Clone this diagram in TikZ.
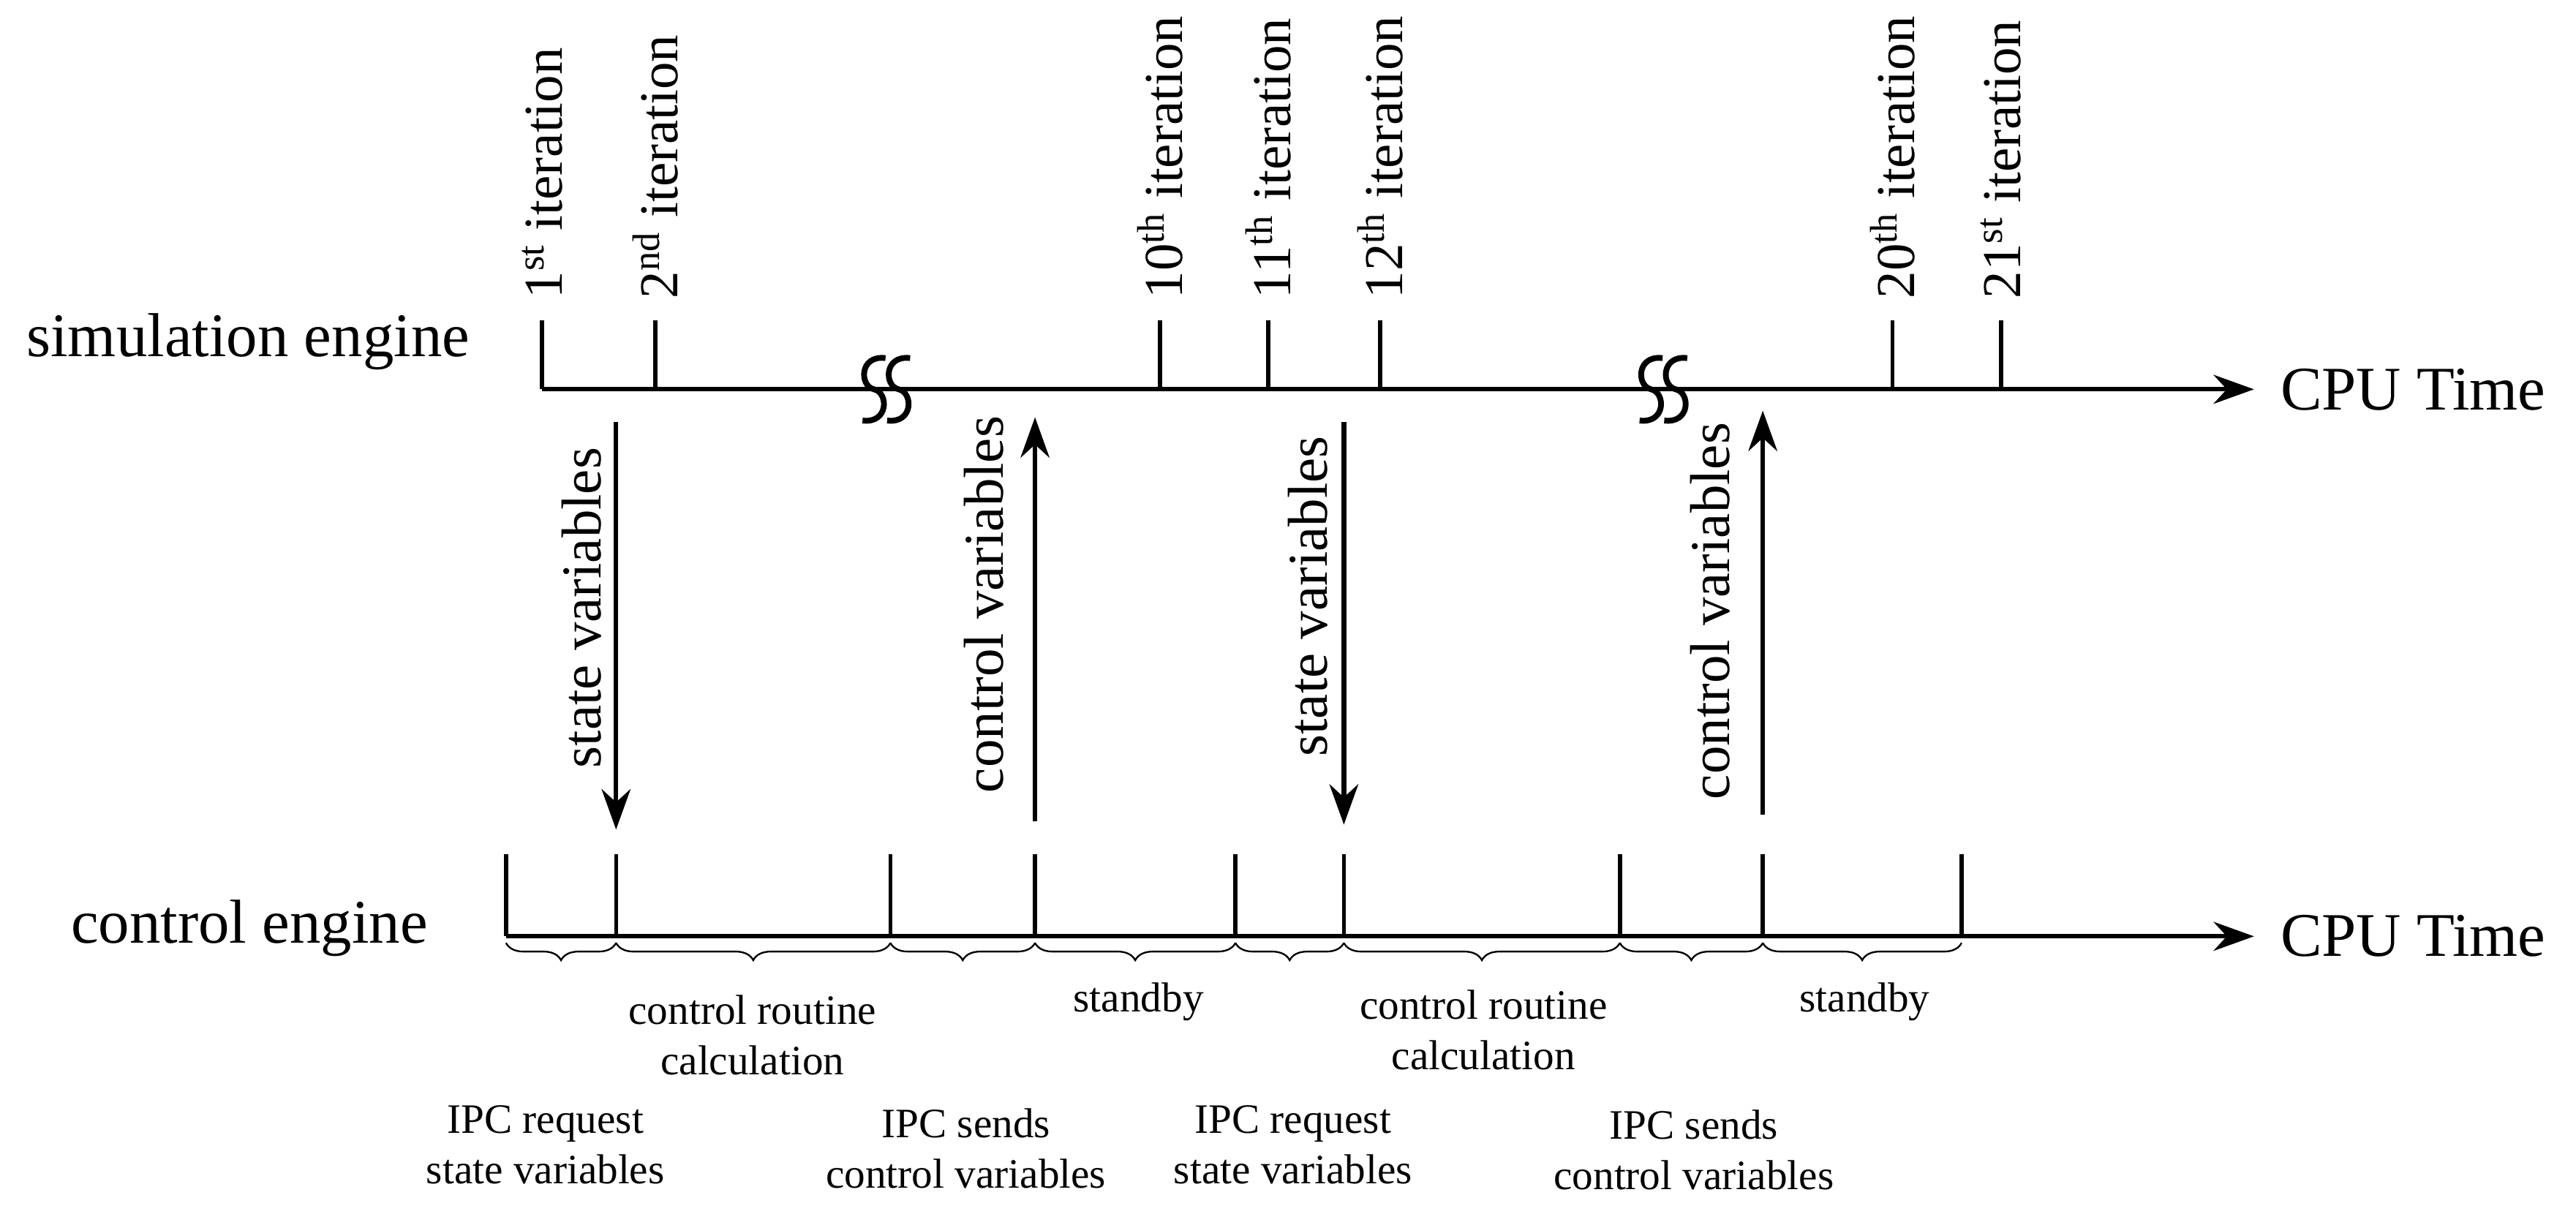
\documentclass[tikz,border=0pt]{standalone}
\usepackage{fontspec}
\setmainfont{Liberation Serif}
\usetikzlibrary{arrows.meta,decorations.pathreplacing}
\tikzset{
  axis/.style={line width=1.6pt, -{Stealth[length=14pt,width=10pt]}},
  tick/.style={line width=1.4pt},
  flow/.style={line width=1.6pt, -{Stealth[length=14pt,width=10pt]}},
  big/.style={font=\fontsize{21.5}{25}\selectfont},
  vlabel/.style={font=\fontsize{19.5}{23}\selectfont, rotate=90},
  iter/.style={font=\fontsize{19}{22}\selectfont, rotate=90, anchor=west},
  small/.style={font=\fontsize{14.5}{17.5}\selectfont, align=center},
  brc/.style={decorate, decoration={brace, mirror, amplitude=6pt}, line width=0.6pt},
}
\newcommand{\breakmark}[1]{%
  \draw[line width=2pt] (#1+7,218) .. controls (#1-9,216) and (#1-9,235) .. (#1,237)
    .. controls (#1+9,239) and (#1+9,258) .. (#1-7,256);}
\begin{document}
\begin{tikzpicture}[x=0.02cm, y=-0.02cm]
    \useasboundingbox (0,0) rectangle (1568,739);
    % simulation engine
    \node[big, anchor=west] (sim) at (10,208) {simulation engine};
    \coordinate (s0) at (330,237);
    \coordinate (s1) at (1372,237);
    \draw[axis] (s0) -- (s1);
    \node[big, anchor=west] (cpu1) at (1382,237) {CPU Time};
    \foreach \x/\t in {330/1\textsuperscript{st}, 399/2\textsuperscript{nd}, 706/10\textsuperscript{th},
        772/11\textsuperscript{th}, 840/12\textsuperscript{th}, 1152/20\textsuperscript{th}, 1218/21\textsuperscript{st}} {
      \draw[tick] (\x,237) -- (\x,195);
      \node[iter] (it\x) at (\x,188) {\t{} iteration};
    }
    \breakmark{532}
    \breakmark{547}
    \breakmark{1005}
    \breakmark{1020}

    % control engine
    \node[big, anchor=west] (ctl) at (37,565) {control engine};
    \coordinate (c0) at (308,570);
    \coordinate (c1) at (1372,570);
    \draw[axis] (c0) -- (c1);
    \node[big, anchor=west] (cpu2) at (1382,570) {CPU Time};
    \foreach \x in {308,375,542,630,752,818,986,1073,1194}
      \draw[tick] (\x,570) -- (\x,520);
    \foreach \a/\b in {308/375,375/542,542/630,630/752,752/818,818/986,986/1073,1073/1194}
      \draw[brc] (\a,574) -- (\b,574);

    % data exchange
    \coordinate (d1a) at (375,257); \coordinate (d1b) at (375,505);
    \coordinate (u1a) at (630,500); \coordinate (u1b) at (630,254);
    \coordinate (d2a) at (818,257); \coordinate (d2b) at (818,502);
    \coordinate (u2a) at (1073,496); \coordinate (u2b) at (1073,250);
    \draw[flow] (d1a) -- (d1b);
    \draw[flow] (u1a) -- (u1b);
    \draw[flow] (d2a) -- (d2b);
    \draw[flow] (u2a) -- (u2b);
    \node[vlabel] (l1) at (354,370) {state variables};
    \node[vlabel] (l2) at (599,368) {control variables};
    \node[vlabel] (l3) at (796,363) {state variables};
    \node[vlabel] (l4) at (1041,372) {control variables};

    % phases
    \node[small] (p1) at (458,630) {control routine\\calculation};
    \node[small] (p2) at (693,610) {standby};
    \node[small] (p3) at (903,627) {control routine\\calculation};
    \node[small] (p4) at (1135,610) {standby};
    \node[small] (p5) at (332,697) {IPC request\\state variables};
    \node[small] (p6) at (588,699) {IPC sends\\control variables};
    \node[small] (p7) at (787,697) {IPC request\\state variables};
    \node[small] (p8) at (1031,700) {IPC sends\\control variables};
\end{tikzpicture}
\end{document}
